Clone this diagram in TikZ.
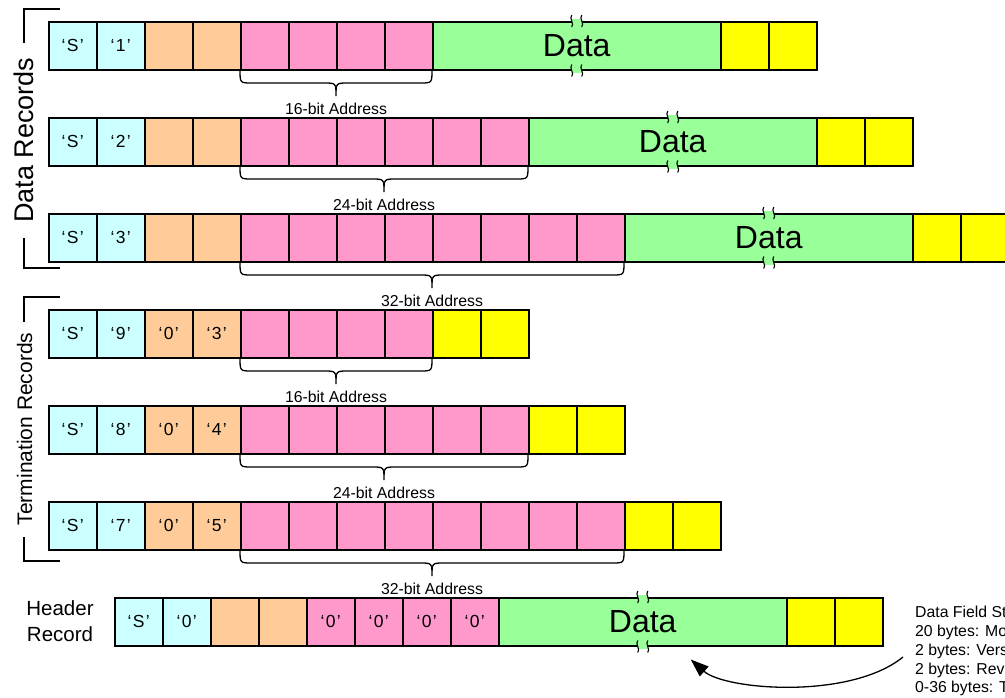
\documentclass[tikz,border=0pt]{standalone}
\usepackage{fontspec}
\setmainfont{Liberation Sans}
\usetikzlibrary{arrows.meta,calc}

\definecolor{cyanc}{HTML}{CCFFFF}
\definecolor{orangec}{HTML}{FFCC99}
\definecolor{pinkc}{HTML}{FF99CC}
\definecolor{greenc}{HTML}{99FF99}
\definecolor{yellowc}{HTML}{FFFF00}

% quoted ASCII character shown inside a field cell
\newcommand\qc[1]{`\kern1.4pt#1\kern1.4pt'}

\tikzset{
  cell/.style={draw=black, line width=1.5pt, minimum width=48pt, minimum height=48pt,
    inner sep=0pt, anchor=north west, font=\fontsize{17.5}{21}\selectfont},
  datacell/.style={cell, fill=greenc, minimum width=288pt, font=\fontsize{32}{38}\selectfont},
  bracepath/.style={draw=black, line width=1.3pt},
  addrlabel/.style={anchor=base, inner sep=0pt, font=\fontsize{15.8}{18}\selectfont},
  grouplabel/.style={anchor=base, inner sep=0pt, rotate=90},
  notetext/.style={anchor=base west, inner sep=0pt, font=\fontsize{15.8}{18}\selectfont},
  pointer/.style={draw=black, line width=1.3pt, -{Triangle[length=18pt,width=13pt]}},
}

% curly brace below a run of address cells: left x, right x, bottom y
\newcommand\addrbrace[3]{%
  \draw[bracepath] (#1,#3+1) .. controls (#1,#3+14) .. (#1+12,#3+14)
    -- ({(#1+#2)/2-12},#3+14) .. controls ({(#1+#2)/2},#3+14) .. ({(#1+#2)/2},#3+27)
    .. controls ({(#1+#2)/2},#3+14) .. ({(#1+#2)/2+12},#3+14)
    -- (#2-12,#3+14) .. controls (#2,#3+14) .. (#2,#3+1);
}

% broken-edge mark on the border of a variable-length field
\newcommand\breakmark[1]{%
  \path #1 coordinate (bm);
  \fill[greenc] ($(bm)+(-5,-2)$) rectangle ($(bm)+(5,2)$);
  \draw[line width=1.1pt] ($(bm)+(-5,-6)$) .. controls +(-3,3) and +(3,-3) .. ($(bm)+(-5,6)$);
  \draw[line width=1.1pt] ($(bm)+(5,-6)$) .. controls +(-3,3) and +(3,-3) .. ($(bm)+(5,6)$);
}

% S1/S2/S3 record: id, top y, type digit, number of address cells, address label
\newcommand\datarow[5]{%
  \node[cell,fill=cyanc] (#1s) at (48,#2) {\qc{S}};
  \node[cell,fill=cyanc] (#1t) at (96,#2) {\qc{#3}};
  \node[cell,fill=orangec] (#1c0) at (144,#2) {};
  \node[cell,fill=orangec] (#1c1) at (192,#2) {};
  \foreach \k in {1,...,#4} \node[cell,fill=pinkc] (#1a\k) at (192+48*\k,#2) {};
  \node[datacell] (#1d) at (240+48*#4,#2) {Data};
  \node[cell,fill=yellowc] (#1k0) at (528+48*#4,#2) {};
  \node[cell,fill=yellowc] (#1k1) at (576+48*#4,#2) {};
  \breakmark{(#1d.north)}
  \breakmark{(#1d.south)}
  \addrbrace{240}{240+48*#4}{#2+48}
  \node[addrlabel] (#1lab) at (240+24*#4,#2+93) {#5};
}

% S9/S8/S7 record: id, top y, type digit, count digit, number of address cells, address label
\newcommand\termrow[6]{%
  \node[cell,fill=cyanc] (#1s) at (48,#2) {\qc{S}};
  \node[cell,fill=cyanc] (#1t) at (96,#2) {\qc{#3}};
  \node[cell,fill=orangec] (#1c0) at (144,#2) {\qc{0}};
  \node[cell,fill=orangec] (#1c1) at (192,#2) {\qc{#4}};
  \foreach \k in {1,...,#5} \node[cell,fill=pinkc] (#1a\k) at (192+48*\k,#2) {};
  \node[cell,fill=yellowc] (#1k0) at (240+48*#5,#2) {};
  \node[cell,fill=yellowc] (#1k1) at (288+48*#5,#2) {};
  \addrbrace{240}{240+48*#5}{#2+48}
  \node[addrlabel] (#1lab) at (240+24*#5,#2+93) {#6};
}

\begin{document}
\begin{tikzpicture}[x=1pt,y=-1pt]
\useasboundingbox (0,0) rectangle (1005,697);
\clip (0,0) rectangle (1005,697);
\fill[white] (0,0) rectangle (1005,697);

% data records
\datarow{ra}{21}{1}{4}{16-bit Address}
\datarow{rb}{117}{2}{6}{24-bit Address}
\datarow{rc}{213}{3}{8}{32-bit Address}

% termination records
\termrow{rd}{309}{9}{3}{4}{16-bit Address}
\termrow{re}{405}{8}{4}{6}{24-bit Address}
\termrow{rf}{501}{7}{5}{8}{32-bit Address}

% header record
\node[cell,fill=cyanc] (hs) at (114,597) {\qc{S}};
\node[cell,fill=cyanc] (ht) at (162,597) {\qc{0}};
\node[cell,fill=orangec] (hc0) at (210,597) {};
\node[cell,fill=orangec] (hc1) at (258,597) {};
\foreach \k in {1,...,4} \node[cell,fill=pinkc] (ha\k) at (258+48*\k,597) {\qc{0}};
\node[datacell] (hd) at (498,597) {Data};
\node[cell,fill=yellowc] (hk0) at (786,597) {};
\node[cell,fill=yellowc] (hk1) at (834,597) {};
\breakmark{(hd.north)}
\breakmark{(hd.south)}

% group labels with their side brackets
\node[grouplabel, font=\fontsize{27}{32}\selectfont] (gdata) at (33,140) {Data Records};
\draw[line width=1.3pt] (60,9) -- (24,9) -- (24,43);
\draw[line width=1.3pt] (24,238) -- (24,268) -- (60,268);

\node[grouplabel, font=\fontsize{21}{25}\selectfont] (gterm) at (32,429) {Termination Records};
\draw[line width=1.3pt] (60,297) -- (24,297) -- (24,322);
\draw[line width=1.3pt] (24,537) -- (24,561) -- (60,561);

\node[anchor=base, inner sep=0pt, font=\fontsize{20.5}{25}\selectfont] (hdrA) at (60,615) {Header};
\node[anchor=base, inner sep=0pt, font=\fontsize{20.5}{25}\selectfont] (hdrB) at (60,641) {Record};

% header data field layout
\node[notetext] (n1) at (915,617) {Data Field Structure};
\node[notetext] (n2) at (915,636) {20 bytes: Module Name};
\node[notetext] (n3) at (915,655) {2 bytes: Version};
\node[notetext] (n4) at (915,674) {2 bytes: Revision};
\node[notetext] (n5) at (915,692) {0-36 bytes: Text Comment};

\coordinate (noteTail) at ($(n3.base west)+(-12,2)$);
\coordinate (dataHint) at ($(hd.south)+(48,13)$);
\draw[pointer] (noteTail) .. controls (850,700) and (725,690) .. (dataHint);
\end{tikzpicture}
\end{document}
